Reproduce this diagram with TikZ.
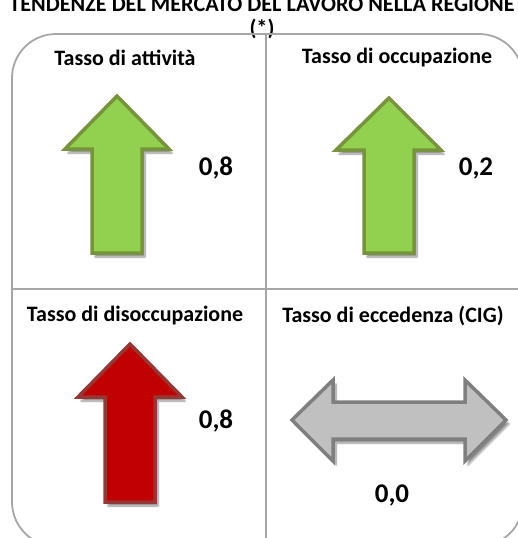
\documentclass[tikz,border=0pt]{standalone}
\usepackage{fontspec}
\setmainfont{Carlito}
\usetikzlibrary{positioning,shadows.blur}

\definecolor{framegray}{HTML}{A6A6A6}
\definecolor{upgreen}{HTML}{92D050}
\definecolor{upgreenedge}{HTML}{77933C}
\definecolor{upred}{HTML}{C00000}
\definecolor{uprededge}{HTML}{953735}
\definecolor{flatgray}{HTML}{C0C0C0}
\definecolor{flatgrayedge}{HTML}{7F7F7F}

\begin{document}
\begin{tikzpicture}[x=1pt,y=-1pt,
    frame/.style={draw=framegray, line width=1.8pt},
    titletext/.style={font=\bfseries\fontsize{22.2}{26}\selectfont, inner sep=0pt},
    header/.style={font=\bfseries\fontsize{22}{26}\selectfont, inner sep=0pt},
    value/.style={font=\bfseries\fontsize{27}{30}\selectfont, inner sep=0pt},
    arrowshadow/.style={blur shadow={shadow xshift=3pt, shadow yshift=-4pt,
        shadow blur steps=8, shadow opacity=45}},
    greenarrow/.style={fill=upgreen, draw=upgreenedge, line width=3.5pt, arrowshadow},
    redarrow/.style={fill=upred, draw=uprededge, line width=3.5pt, arrowshadow},
    grayarrow/.style={fill=flatgray, draw=flatgrayedge, line width=3.5pt, arrowshadow}]

  \useasboundingbox (0,0) rectangle (517,538);

  % title, cut at the top
  \node[titletext, anchor=base] (title) at (262,12)
    {TENDENZE DEL MERCATO DEL LAVORO NELLA REGIONE};
  \node[titletext, below=6pt of title] (star) {(*)};

  % frame with its four cells
  \draw[frame, rounded corners=44pt] (12,34) rectangle (523,546);
  \coordinate (midtop) at (266,34);
  \coordinate (midbot) at (266,546);
  \coordinate (midleft) at (12,289);
  \coordinate (midright) at (523,289);
  \draw[frame] (midtop) -- (midbot);
  \draw[frame] (midleft) -- (midright);

  % cell headers
  \node[header] (attivita) at (125,58) {Tasso di attività};
  \node[header] (occupazione) at (397,58) {Tasso di occupazione};
  \node[header] (disoccupazione) at (135,316) {Tasso di disoccupazione};
  \node[header] (eccedenza) at (393,316) {Tasso di eccedenza (CIG)};

  % arrows
  \draw[greenarrow] (117,96) -- (169,149) -- (142,149) -- (142,253)
    -- (92,253) -- (92,149) -- (65,149) -- cycle;
  \draw[greenarrow] (389,98) -- (441,150) -- (414,150) -- (414,253)
    -- (364,253) -- (364,150) -- (336,150) -- cycle;
  \draw[redarrow] (130,344) -- (182,397) -- (155,397) -- (155,502)
    -- (105,502) -- (105,397) -- (78,397) -- cycle;
  \draw[grayarrow] (292,420) -- (333,380) -- (333,402) -- (465,402)
    -- (465,380) -- (506,420) -- (465,461) -- (465,439) -- (333,439)
    -- (333,461) -- cycle;

  % values
  \node[value] (val1) at (216,168) {0,8};
  \node[value] (val2) at (476,168) {0,2};
  \node[value] (val3) at (216,421) {0,8};
  \node[value] (val4) at (392,495) {0,0};
\end{tikzpicture}
\end{document}
